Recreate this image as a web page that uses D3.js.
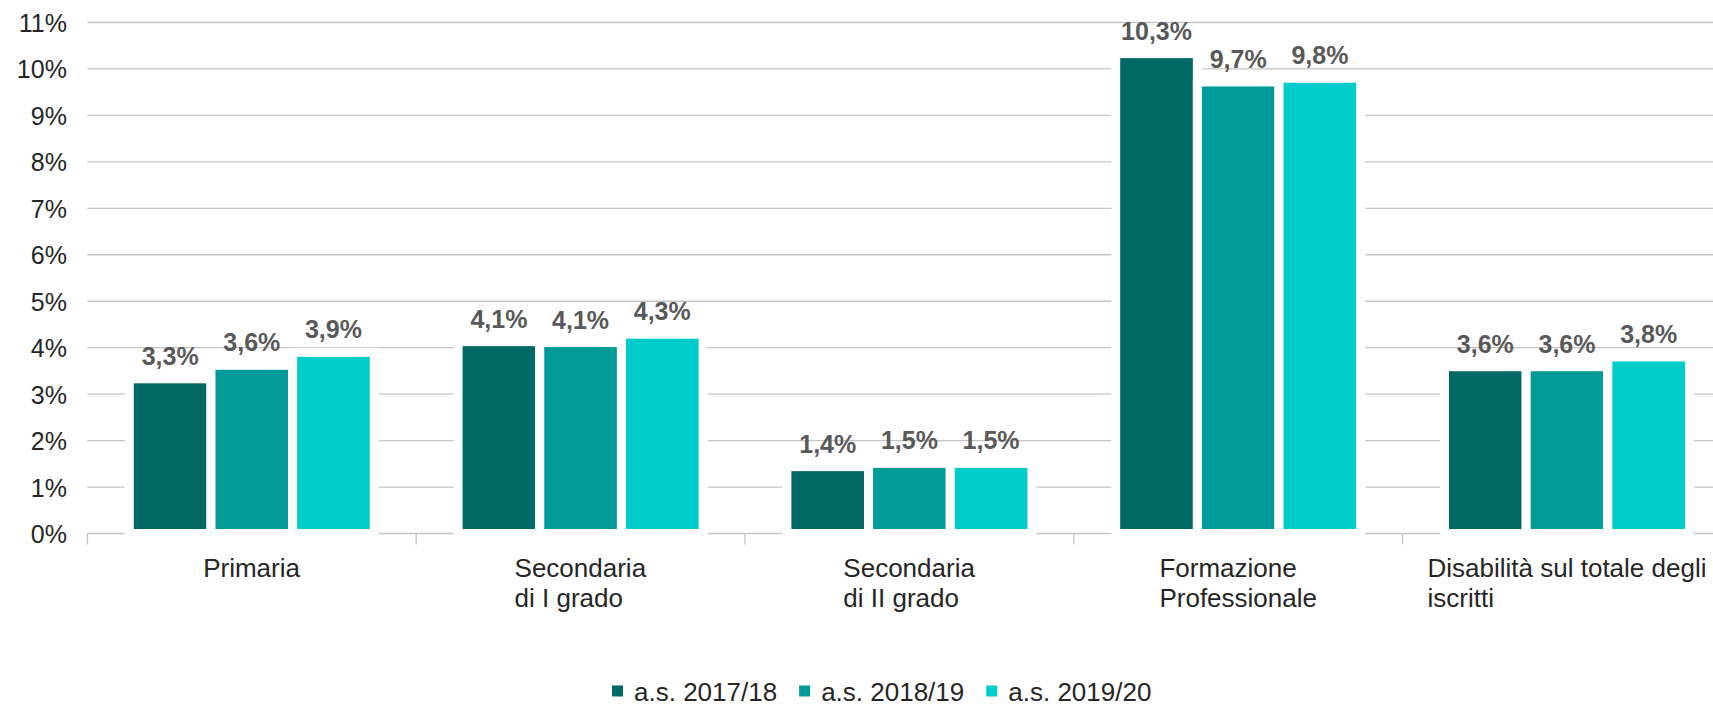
<!DOCTYPE html>
<html>
<head>
<meta charset="utf-8">
<script src="https://cdn.jsdelivr.net/npm/d3@7"></script>
<style>
  html, body { margin: 0; padding: 0; background: #fff; overflow: hidden; }
  svg { display: block; font-family: "Liberation Sans", Arial, sans-serif; }
</style>
</head>
<body>
<svg id="chart" width="1713" height="708"></svg>
<script>
const categories = ["Primaria", "Secondaria\ndi I grado", "Secondaria\ndi II grado", "Formazione\nProfessionale", "Disabilità sul totale degli\niscritti"];
const seriesNames = ["a.s. 2017/18", "a.s. 2018/19", "a.s. 2019/20"];
const values2017 = [3.33, 4.13, 1.44, 10.33, 3.59];
const values2018 = [3.62, 4.11, 1.51, 9.72, 3.59];
const values2019 = [3.90, 4.29, 1.51, 9.80, 3.80];
const yTicks = [0, 1, 2, 3, 4, 5, 6, 7, 8, 9, 10, 11];
const colors = ["#006964", "#009a98", "#00cccb"];

const seriesValues = [values2017, values2018, values2019];

const svg = d3.select("#chart");
const plotLeft = 87.4, plotRight = 1731.4, plotTop = 22.5, plotBottom = 533.5;

const x0 = d3.scaleBand().domain(categories).range([plotLeft, plotRight]).padding(0);
const x1 = d3.scaleBand().domain(seriesNames).range([0, x0.bandwidth()]).paddingInner(0).paddingOuter(0.513);
const y = d3.scaleLinear().domain([0, 11]).range([plotBottom, plotTop]);

// gridlines
const grid = svg.append("g");
grid.selectAll("line").data(yTicks).join("line")
  .attr("x1", plotLeft).attr("x2", 1713)
  .attr("y1", d => y(d)).attr("y2", d => y(d))
  .attr("stroke", "#c4c4c4").attr("stroke-width", 1.3);

// category boundary ticks
const bounds = categories.map(c => x0(c));
svg.append("g").selectAll("line").data(bounds).join("line")
  .attr("x1", d => d).attr("x2", d => d)
  .attr("y1", plotBottom).attr("y2", plotBottom + 11)
  .attr("stroke", "#c4c4c4").attr("stroke-width", 1.3);

// y tick labels
const yAxis = d3.axisLeft(y).tickValues(yTicks).tickSize(0).tickPadding(0).tickFormat(d => d + "%");
const ya = svg.append("g").attr("transform", `translate(${plotLeft - 20.5},0)`).call(yAxis);
ya.select(".domain").remove();
ya.selectAll("text")
  .attr("font-family", "Liberation Sans, Arial, sans-serif")
  .attr("font-size", 25).attr("fill", "#262626")
  .attr("dy", null).attr("y", 9);

// bars
const data = [];
categories.forEach((c, i) => {
  seriesNames.forEach((s, j) => {
    data.push({ cat: c, ser: s, v: seriesValues[j][i], j });
  });
});

svg.append("g").selectAll("rect").data(data).join("rect")
  .attr("x", d => x0(d.cat) + x1(d.ser))
  .attr("y", d => y(d.v))
  .attr("width", x1.bandwidth())
  .attr("height", d => y(0) - y(d.v))
  .attr("fill", d => colors[d.j])
  .attr("stroke", "#fff").attr("stroke-width", 9);

// data labels
const fmt = d3.format(".1f");
svg.append("g").selectAll("text").data(data).join("text")
  .attr("x", d => x0(d.cat) + x1(d.ser) + x1.bandwidth() / 2)
  .attr("y", d => y(d.v) - 14)
  .attr("text-anchor", "middle")
  .attr("font-size", 25).attr("font-weight", "bold").attr("fill", "#595959")
  .text(d => fmt(d.v).replace(".", ",") + "%");

// category labels
const catG = svg.append("g");
categories.forEach(c => {
  const t = catG.append("text")
    .attr("font-size", 26).attr("fill", "#262626")
    .attr("y", 577);
  c.split("\n").forEach((line, k) => {
    t.append("tspan").attr("x", 0).attr("y", 577 + k * 30).text(line);
  });
  const w = t.node().getBBox().width;
  const cx = x0(c) + x0.bandwidth() / 2;
  t.attr("transform", `translate(${cx - w / 2},0)`);
});

// legend
const lg = svg.append("g");
let lx = 612;
seriesNames.forEach((s, j) => {
  lg.append("rect").attr("x", lx).attr("y", 685.5).attr("width", 11).attr("height", 11).attr("fill", colors[j]);
  const t = lg.append("text").attr("x", lx + 22).attr("y", 701)
    .attr("font-size", 26).attr("fill", "#262626").text(s);
  const w = t.node().getComputedTextLength();
  lx = lx + 22 + w + 22;
});
</script>
</body>
</html>
